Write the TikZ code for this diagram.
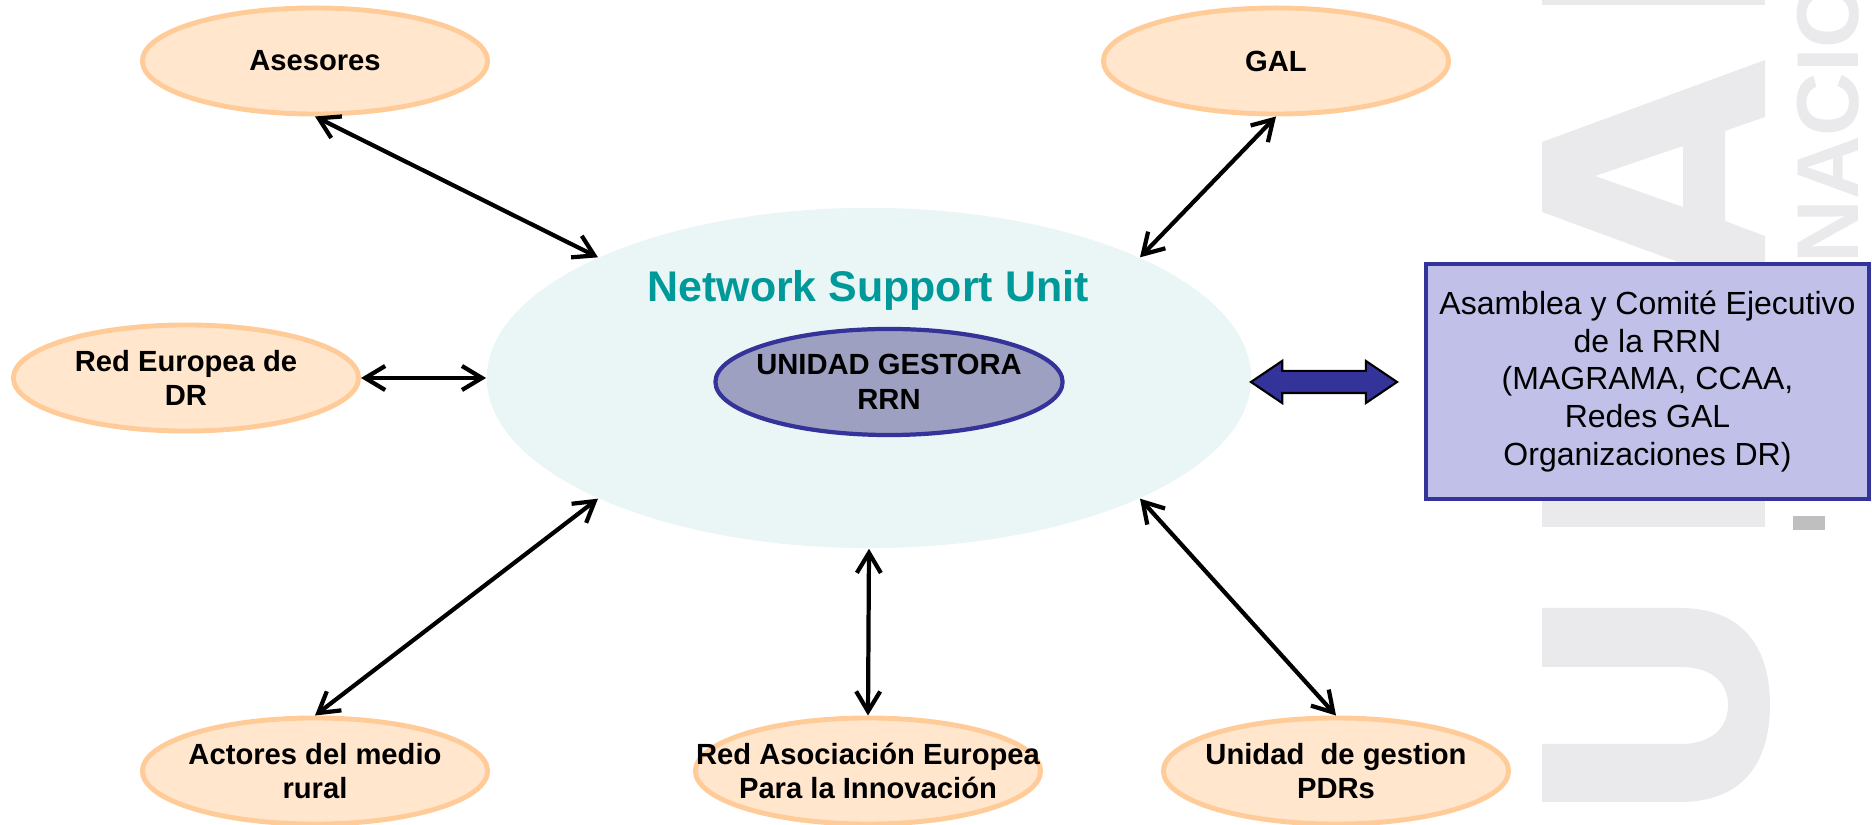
\documentclass[tikz,border=0pt]{standalone}
\usepackage{fontspec}
\setmainfont{Liberation Sans}
\usetikzlibrary{arrows.meta,shapes.geometric,shapes.arrows}

\definecolor{peach}{RGB}{255,230,204}
\definecolor{peachline}{RGB}{255,204,153}
\definecolor{paleblue}{RGB}{234,245,246}
\definecolor{nsuteal}{RGB}{0,153,153}
\definecolor{navy}{RGB}{51,51,153}
\definecolor{lilac}{RGB}{192,192,232}
\definecolor{slate}{RGB}{157,160,192}
\definecolor{wmgrey}{RGB}{234,234,236}

\tikzset{
  actor/.style={ellipse,draw=peachline,fill=peach,line width=1.4pt,
    inner xsep=-0.7cm,inner ysep=-0.2cm,minimum width=3.45cm,minimum height=1.06cm,
    align=center,font=\fontsize{8.3}{9.9}\selectfont\bfseries},
  conn/.style={{Straight Barb[length=2mm,width=2.4mm]}-{Straight Barb[length=2mm,width=2.4mm]},line width=1.2pt},
}

\begin{document}
\begin{tikzpicture}[x=0.01cm,y=-0.01cm]
\useasboundingbox (0,0) rectangle (1872,825);

% watermark on the right
\fill[wmgrey] (1542,0) rectangle (1765,5);
\fill[wmgrey,even odd rule] (1542,142) -- (1765,60) -- (1765,117) -- (1725,131) -- (1725,221) -- (1765,236) -- (1765,294) -- (1542,212) -- cycle
  (1595,176) -- (1683,146) -- (1683,207) -- cycle;
\fill[wmgrey] (1542,470) rectangle (1765,527);
\fill[wmgrey] (1542,608) -- (1680,608) .. controls (1745,608) and (1770,650) .. (1770,705)
  .. controls (1770,760) and (1745,802) .. (1680,802) -- (1542,802) -- (1542,744) -- (1680,744)
  .. controls (1715,744) and (1728,725) .. (1728,705) .. controls (1728,685) and (1715,667) .. (1680,667)
  -- (1542,667) -- cycle;
\fill[gray!50] (1793,516) rectangle (1825,530);
\node[rotate=90,anchor=base west,inner sep=0pt,text=wmgrey,font=\fontsize{25}{25}\selectfont\bfseries] (wmtext) at (1858,264) {NACIONAL};

% network support unit
\node[ellipse,fill=paleblue,inner sep=0pt,minimum width=7.64cm,minimum height=3.4cm] (nsu) at (869,378) {};
\node[text=nsuteal,font=\fontsize{12.2}{14}\selectfont\bfseries] (nsutitle) at (868,290) {Network Support Unit};
\node[ellipse,draw=navy,fill=slate,line width=1.2pt,inner xsep=-0.7cm,inner ysep=-0.2cm,
  minimum width=3.47cm,minimum height=1.06cm,align=center,font=\fontsize{8.3}{9.9}\selectfont\bfseries] (core) at (889,382) {UNIDAD GESTORA\\RRN};

% actors
\node[actor] (asesores) at (315,61) {Asesores};
\node[actor] (gal) at (1276,61) {GAL};
\node[actor] (redeur) at (186,378) {Red Europea de\\DR};
\node[actor] (actores) at (315,771) {Actores del medio\\rural};
\node[actor] (redasoc) at (868,771) {Red Asociación Europea\\Para la Innovación};
\node[actor] (pdr) at (1336,771) {Unidad~ de gestion\\PDRs};

% assembly
\node[draw=navy,fill=lilac,line width=1.3pt,inner sep=0pt,minimum width=4.43cm,minimum height=2.35cm,
  align=center,font=\fontsize{9.1}{10.7}\selectfont] (asamblea) at (1647.5,381.5)
  {Asamblea y Comité Ejecutivo\\de la RRN\\(MAGRAMA, CCAA,\\Redes GAL\\Organizaciones DR)};
\node[double arrow,draw=black,fill=navy,line width=0.6pt,inner xsep=0pt,inner ysep=0.1cm,minimum height=1.46cm,
  double arrow head extend=0.1cm,double arrow tip angle=68] (link) at (1324,382) {};

\draw[conn] (asesores.south) -- (nsu.156);
\draw[conn] (gal.south) -- (nsu.24);
\draw[conn] (redeur.east) -- (nsu.west);
\draw[conn] (actores.north) -- (nsu.204);
\draw[conn] (redasoc.north) -- (nsu.south);
\draw[conn] (pdr.north) -- (nsu.336);

\end{tikzpicture}
\end{document}
